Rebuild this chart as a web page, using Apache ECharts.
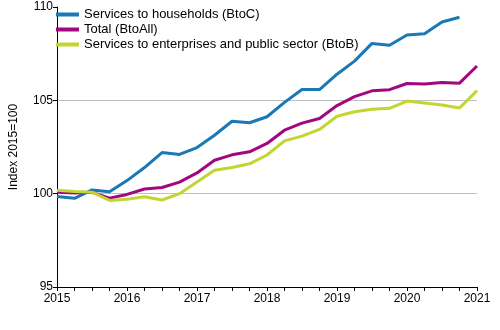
<!DOCTYPE html>
<html>
<head>
<meta charset="utf-8">
<script src="https://cdn.jsdelivr.net/npm/echarts@6/dist/echarts.min.js"></script>
<style>
  html, body { margin: 0; padding: 0; background: #ffffff; }
  #chart { width: 500px; height: 330px; }
</style>
</head>
<body>
<div id="chart"></div>
<script>
// Quarterly periods, 2015Q1 .. 2021Q1
const quarters = [
  '2015Q1','2015Q2','2015Q3','2015Q4',
  '2016Q1','2016Q2','2016Q3','2016Q4',
  '2017Q1','2017Q2','2017Q3','2017Q4',
  '2018Q1','2018Q2','2018Q3','2018Q4',
  '2019Q1','2019Q2','2019Q3','2019Q4',
  '2020Q1','2020Q2','2020Q3','2020Q4',
  '2021Q1'
];

// Index 2015=100
const btoC = [
  99.85, 99.75, 100.2, 100.1,
  100.7, 101.4, 102.2, 102.1,
  102.47, 103.13, 103.88, 103.8,
  104.12, 104.89, 105.58, 105.58,
  106.4, 107.1, 108.05, 107.95,
  108.5, 108.57, 109.2, 109.45,
  null
];
const btoAll = [
  100.08, 100.03, 100.07, 99.76,
  99.96, 100.25, 100.33, 100.62,
  101.11, 101.79, 102.08, 102.24,
  102.69, 103.4, 103.78, 104.03,
  104.72, 105.2, 105.51, 105.57,
  105.9, 105.87, 105.95, 105.92,
  106.84
];
const btoB = [
  100.18, 100.12, 100.08, 99.64,
  99.7, 99.84, 99.66, 100.0,
  100.62, 101.25, 101.4, 101.6,
  102.07, 102.83, 103.08, 103.44,
  104.15, 104.39, 104.52, 104.57,
  104.96, 104.86, 104.75, 104.59,
  105.52
];

const seriesNames = [
  'Services to households (BtoC)',
  'Total (BtoAll)',
  'Services to enterprises and public sector (BtoB)'
];
const seriesColors = ['#1879b5', '#a3077f', '#c3d530'];

const yTicks = { min: 95, max: 110, step: 5 };
const fontFamily = '"Liberation Sans", Arial, sans-serif';

const chart = echarts.init(document.getElementById('chart'), null, { renderer: 'canvas' });

chart.setOption({
  animation: false,
  backgroundColor: '#ffffff',
  grid: { left: 53, right: 23, top: 7, bottom: 43 },
  legend: {
    orient: 'vertical',
    left: 56,
    top: 8,
    padding: 0,
    itemWidth: 23,
    itemHeight: 4,
    itemGap: 2,
    icon: 'rect',
    textStyle: { fontFamily: fontFamily, fontSize: 13, color: '#000' },
    data: seriesNames
  },
  xAxis: {
    type: 'category',
    data: quarters,
    boundaryGap: false,
    axisLine: { lineStyle: { color: '#000', width: 1 } },
    axisTick: { interval: 0, length: 4, lineStyle: { color: '#000' } },
    axisLabel: {
      interval: 3,
      color: '#000',
      fontFamily: fontFamily,
      fontSize: 12,
      margin: 6,
      formatter: v => v.slice(0, 4)
    },
    splitLine: { show: false }
  },
  yAxis: {
    type: 'value',
    min: yTicks.min,
    max: yTicks.max,
    interval: yTicks.step,
    name: 'Index 2015=100',
    nameLocation: 'middle',
    nameGap: 37,
    nameTextStyle: { fontFamily: fontFamily, fontSize: 12, color: '#000' },
    axisLine: { show: true, lineStyle: { color: '#000', width: 1 } },
    axisTick: { show: true, length: 4, lineStyle: { color: '#000' } },
    axisLabel: { color: '#000', fontFamily: fontFamily, fontSize: 12, margin: 4 },
    splitLine: {
      show: true,
      lineStyle: { color: ['rgba(0,0,0,0)', '#c0c0c0', '#c0c0c0', 'rgba(0,0,0,0)'], width: 1 }
    }
  },
  series: [btoC, btoAll, btoB].map((values, i) => ({
    name: seriesNames[i],
    type: 'line',
    data: values,
    showSymbol: false,
    symbol: 'none',
    lineStyle: { width: 3, color: seriesColors[i] },
    itemStyle: { color: seriesColors[i] },
    z: 2 + i
  }))
});
</script>
</body>
</html>
